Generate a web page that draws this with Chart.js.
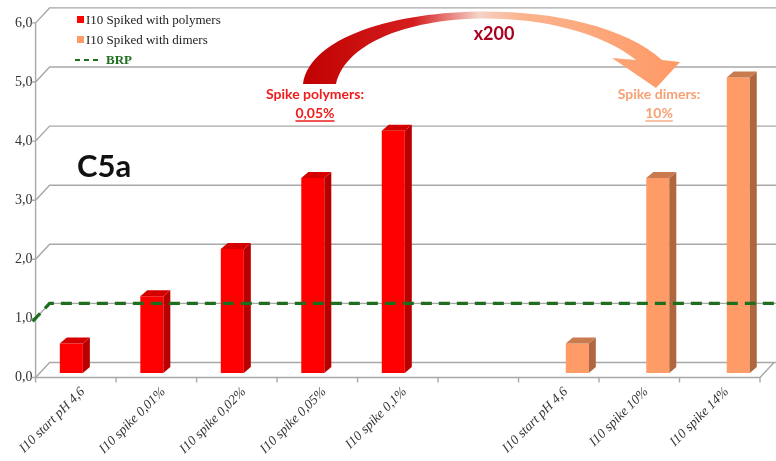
<!DOCTYPE html>
<html>
<head>
<meta charset="utf-8">
<script src="https://cdn.jsdelivr.net/npm/chart.js@4.4.1/dist/chart.umd.min.js"></script>
<style>
  html, body { margin: 0; padding: 0; background: #ffffff; }
  #wrap { width: 776px; height: 461px; position: relative; }
</style>
</head>
<body>
<div id="wrap"><canvas id="c5a" width="776" height="461"></canvas></div>
<script>
// Samples along the x axis (the sixth slot is a spacer between the two groups)
const categories = [
  "I10 start pH 4,6", "I10 spike 0,01%", "I10 spike 0,02%", "I10 spike 0,05%", "I10 spike 0,1%",
  "",
  "I10 start pH 4,6", "I10 spike 10%", "I10 spike 14%"
];
// C5a response per sample
const polymerValues = [0.5, 1.3, 2.1, 3.3, 4.1, null, null, null, null];
const dimerValues   = [null, null, null, null, null, null, 0.5, 3.3, 5.0];
// Reference (BRP) level
const brpLevel = [1.0];
// Series names
const seriesNames = ["I10 Spiked with polymers", "I10 Spiked with dimers", "BRP"];
// Annotation texts
const spikeTexts = { polymerTitle: "Spike polymers:", polymerValue: "0,05%",
                     dimerTitle: "Spike dimers:", dimerValue: "10%", factor: "x200" };
const chartTitle = "C5a";

const COLORS = {
  red:      { front: "#ff0000", side: "#b80000", top: "#d40000" },
  orange:   { front: "#ff9b66", side: "#b0673f", top: "#c97a4f" },
  grid: "#a8a8a8",
  brp: "#1d6e1d"
};

// Offsets of the pseudo-3D planes relative to the plane the bars are drawn on
const FRONT = { dx: -7, dy: 4.5 };
const BACK  = { dx: 7,  dy: -10.5 };
const BAR_DEPTH = { dx: 7, dy: 6 };

const wallsPlugin = {
  id: "walls",
  beforeDatasetsDraw(chart) {
    const { ctx, chartArea: a, scales: { x, y } } = chart;
    const yF = v => y.getPixelForValue(v) + FRONT.dy;
    const yB = v => y.getPixelForValue(v) + BACK.dy;
    const fl = a.left + FRONT.dx, fr = a.right + FRONT.dx;
    const bl = a.left + BACK.dx;
    ctx.save();
    ctx.strokeStyle = COLORS.grid;
    ctx.lineWidth = 1.4;
    ctx.beginPath();
    y.ticks.forEach(t => {
      const v = t.value;
      ctx.moveTo(fl - 4, yF(v));
      ctx.lineTo(fl, yF(v));
      ctx.lineTo(bl, yB(v));
      ctx.lineTo(chart.width, yB(v));
    });
    // front axis
    ctx.moveTo(fl, yF(y.min));
    ctx.lineTo(fl, yF(y.max));
    // floor front edge and right edge
    ctx.moveTo(fl, yF(0));
    ctx.lineTo(fr, yF(0));
    ctx.lineTo(fr + (BACK.dx - FRONT.dx), yB(0));
    // category tick marks on the floor edge
    const slot = x.getPixelForValue(1) - x.getPixelForValue(0);
    for (let i = 0; i <= categories.length; i++) {
      const bx = x.getPixelForValue(0) - slot / 2 + i * slot + FRONT.dx;
      ctx.moveTo(bx, yF(0));
      ctx.lineTo(bx, yF(0) + 5);
    }
    ctx.stroke();
    ctx.restore();
  },
  afterDatasetsDraw(chart) {
    const { ctx, chartArea: a, scales: { y } } = chart;
    ctx.save();
    // side and top faces of every bar
    chart.data.datasets.forEach((ds, di) => {
      const meta = chart.getDatasetMeta(di);
      const col = ds.faces;
      meta.data.forEach((bar, i) => {
        if (ds.data[i] == null) return;
        const { x: cx, y: top, base, width } = bar.getProps(["x", "y", "base", "width"], true);
        const l = cx - width / 2, r = cx + width / 2;
        ctx.fillStyle = col.side;
        ctx.beginPath();
        ctx.moveTo(r, base); ctx.lineTo(r + BAR_DEPTH.dx, base - BAR_DEPTH.dy);
        ctx.lineTo(r + BAR_DEPTH.dx, top - BAR_DEPTH.dy); ctx.lineTo(r, top);
        ctx.closePath(); ctx.fill();
        ctx.fillStyle = col.top;
        ctx.beginPath();
        ctx.moveTo(l, top); ctx.lineTo(l + BAR_DEPTH.dx, top - BAR_DEPTH.dy);
        ctx.lineTo(r + BAR_DEPTH.dx, top - BAR_DEPTH.dy); ctx.lineTo(r, top);
        ctx.closePath(); ctx.fill();
      });
    });
    // BRP reference line on the back wall
    const v = brpLevel[0];
    const yb = y.getPixelForValue(v) + BACK.dy;
    const yf = y.getPixelForValue(v) + FRONT.dy;
    ctx.strokeStyle = COLORS.brp;
    ctx.lineWidth = 3.2;
    ctx.setLineDash([11, 7]);
    ctx.beginPath();
    ctx.moveTo(a.left + FRONT.dx - 3, yf + 3);
    ctx.lineTo(a.left + BACK.dx, yb);
    ctx.lineTo(chart.width, yb);
    ctx.stroke();
    ctx.restore();
  },
  afterDraw(chart) {
    const { ctx } = chart;
    ctx.save();
    // legend
    ctx.textBaseline = "middle";
    ctx.font = "13px 'Liberation Serif'";
    ctx.fillStyle = COLORS.red.front;
    ctx.fillRect(77, 16, 7, 7);
    ctx.fillStyle = COLORS.orange.front;
    ctx.fillRect(77, 36, 7, 7);
    ctx.fillStyle = "#222";
    ctx.fillText(seriesNames[0], 86, 20.5);
    ctx.fillText(seriesNames[1], 86, 40.5);
    ctx.strokeStyle = COLORS.brp;
    ctx.lineWidth = 2;
    ctx.setLineDash([5, 4]);
    ctx.beginPath(); ctx.moveTo(75, 60); ctx.lineTo(101, 60); ctx.stroke();
    ctx.setLineDash([]);
    ctx.fillStyle = COLORS.brp;
    ctx.font = "bold 13px 'Liberation Serif'";
    ctx.fillText(seriesNames[2], 106, 60.5);

    // curved arrow between the two spike levels
    const g = ctx.createLinearGradient(300, 0, 680, 0);
    g.addColorStop(0, "#c00000");
    g.addColorStop(0.3, "#d41e1e");
    g.addColorStop(0.47, "#f6d2c8");
    g.addColorStop(0.58, "#fbb48e");
    g.addColorStop(1, "#ff9966");
    ctx.fillStyle = g;
    ctx.beginPath();
    ctx.moveTo(303, 84);
    ctx.bezierCurveTo(315, 0, 580, -15, 662, 60);
    ctx.lineTo(680, 62);
    ctx.lineTo(656, 88);
    ctx.lineTo(612, 58);
    ctx.lineTo(636, 60);
    ctx.bezierCurveTo(560, -2, 355, 5, 336, 84);
    ctx.closePath();
    ctx.fill();

    // annotations
    ctx.textAlign = "center";
    ctx.textBaseline = "alphabetic";
    ctx.font = "bold 18px Lato";
    ctx.fillStyle = "#a8001e";
    ctx.fillText(spikeTexts.factor, 494, 40);

    const label = (title, value, cx, color) => {
      ctx.fillStyle = color;
      ctx.strokeStyle = color;
      ctx.font = "bold 14px Lato";
      ctx.fillText(title, cx, 99);
      ctx.fillText(value, cx, 118);
      const w = ctx.measureText(value).width;
      ctx.lineWidth = 1.3;
      ctx.beginPath();
      ctx.moveTo(cx - w / 2, 121); ctx.lineTo(cx + w / 2, 121);
      ctx.stroke();
    };
    label(spikeTexts.polymerTitle, spikeTexts.polymerValue, 315, "#f01c1c");
    label(spikeTexts.dimerTitle, spikeTexts.dimerValue, 659, "#f7a074");

    ctx.textAlign = "left";
    ctx.fillStyle = "#111";
    ctx.font = "bold 31px Lato";
    ctx.fillText(chartTitle, 77, 177);
    ctx.restore();
  }
};

new Chart(document.getElementById("c5a"), {
  type: "bar",
  data: {
    labels: categories,
    datasets: [
      { label: seriesNames[0], data: polymerValues, backgroundColor: COLORS.red.front, faces: COLORS.red,
        categoryPercentage: 0.572, barPercentage: 1.0 },
      { label: seriesNames[1], data: dimerValues, backgroundColor: COLORS.orange.front, faces: COLORS.orange,
        categoryPercentage: 0.572, barPercentage: 1.0 }
    ]
  },
  options: {
    responsive: false,
    animation: false,
    devicePixelRatio: 1,
    layout: { padding: { top: 17, right: 9, left: 0, bottom: 0 } },
    plugins: { legend: { display: false }, tooltip: { enabled: false } },
    scales: {
      x: {
        grid: { display: false, drawTicks: false },
        border: { display: false },
        afterFit(scale) { scale.height = 88; },
        ticks: {
          autoSkip: false, minRotation: 45, maxRotation: 45, padding: 11,
          color: "#333333",
          font: { family: "'Liberation Serif'", style: "italic", size: 13.5 }
        }
      },
      y: {
        min: 0, max: 6,
        grid: { display: false, drawTicks: false },
        border: { display: false },
        afterFit(scale) { scale.width = 42.6; },
        ticks: {
          stepSize: 1, padding: 10, labelOffset: 4.5,
          color: "#333333",
          font: { family: "'Liberation Serif'", size: 14 },
          callback: v => v.toFixed(1).replace(".", ",")
        }
      }
    }
  },
  plugins: [wallsPlugin]
});
</script>
</body>
</html>
